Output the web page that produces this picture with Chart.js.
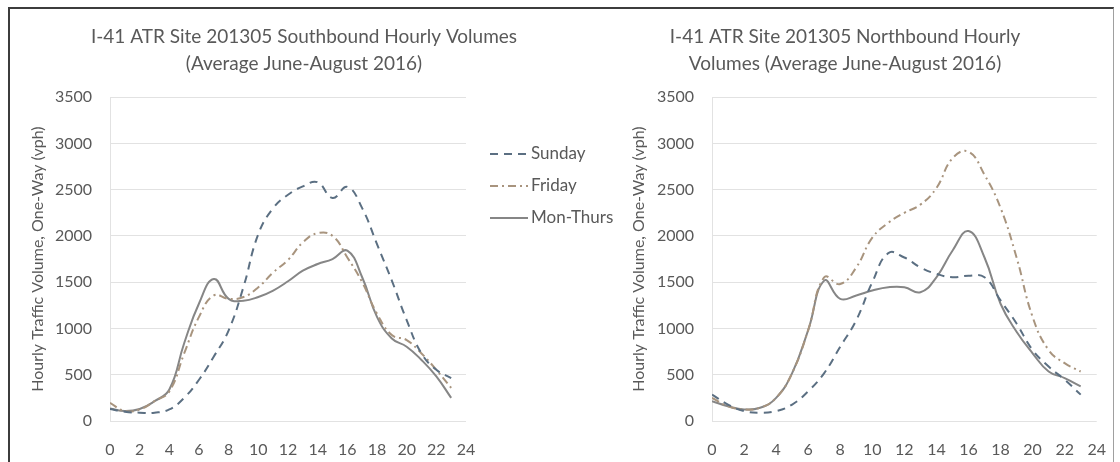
<!DOCTYPE html>
<html>
<head>
<meta charset="utf-8">
<script src="https://cdn.jsdelivr.net/npm/chart.js@4"></script>
<style>
  html, body { margin: 0; padding: 0; background: #fff; overflow: hidden; }
  #wrap { position: relative; width: 1120px; height: 462px; }
  #frame { position: absolute; left: 8px; top: 7px; width: 1103px; height: 470px;
           border-left: 2px solid #3c3c3c; border-top: 2px solid #3c3c3c; border-right: 1px solid #a0a0a0; }
  canvas { position: absolute; top: 0; }
  #south { left: -16px; }
  #north { left: 565px; }
</style>
</head>
<body>
<div id="wrap">
  <div id="frame"></div>
  <canvas id="south" width="640" height="462"></canvas>
  <canvas id="north" width="560" height="462"></canvas>
</div>
<script>
const hours = [0, 1, 2, 3, 4, 5, 6, 7, 8, 9, 10, 11, 12, 13, 14, 15, 16, 17, 18, 19, 20, 21, 22, 23];
const seriesNames = ["Sunday", "Friday", "Mon-Thurs"];

const southSunday = [130, 100, 90, 90, 125, 250, 446, 696, 980, 1450, 2020, 2300, 2445, 2535, 2580, 2410, 2530, 2300, 1910, 1517, 1090, 730, 553, 464];
const southFriday = [196, 107, 125, 214, 320, 730, 1125, 1357, 1320, 1340, 1445, 1606, 1740, 1930, 2030, 2000, 1767, 1500, 1160, 928, 875, 730, 553, 357];
const southMonThurs = [135, 107, 130, 214, 340, 840, 1270, 1535, 1320, 1300, 1340, 1410, 1510, 1624, 1696, 1750, 1840, 1553, 1125, 892, 803, 660, 482, 250];

const northSunday = [285, 178, 107, 90, 107, 178, 321, 518, 803, 1089, 1500, 1814, 1767, 1660, 1590, 1553, 1570, 1553, 1303, 1053, 767, 589, 446, 285];
const northFriday = [250, 160, 125, 143, 250, 518, 982, 1553, 1480, 1660, 1981, 2142, 2250, 2338, 2517, 2838, 2910, 2660, 2303, 1767, 1125, 767, 625, 535];
const northMonThurs = [214, 160, 125, 143, 250, 518, 982, 1517, 1320, 1357, 1410, 1446, 1446, 1392, 1553, 1840, 2053, 1767, 1267, 964, 732, 535, 464, 375];

const textColor = "#595959";
const styles = [
  { color: "#5b6f82", dash: [8, 6] },
  { color: "#a8947e", dash: [8, 4, 2, 4] },
  { color: "#868686", dash: [] }
];

function points(values) {
  return values.map((v, i) => ({ x: hours[i], y: v }));
}

function makeDatasets(list) {
  return list.map((values, i) => ({
    label: seriesNames[i],
    data: points(values),
    borderColor: styles[i].color,
    borderDash: styles[i].dash,
    borderWidth: 2,
    pointRadius: 0,
    tension: 0.45,
    fill: false
  }));
}

// legend drawn beside the plot, like the Excel one
const sideLegend = {
  id: "sideLegend",
  afterDraw(chart, args, opts) {
    if (!opts.show) return;
    const ctx = chart.ctx;
    ctx.save();
    chart.data.datasets.forEach((ds, i) => {
      const y = opts.top + i * opts.gap;
      ctx.beginPath();
      ctx.setLineDash(ds.borderDash);
      ctx.strokeStyle = ds.borderColor;
      ctx.lineWidth = ds.borderWidth;
      ctx.moveTo(opts.x, y);
      ctx.lineTo(opts.x + opts.len, y);
      ctx.stroke();
      ctx.setLineDash([]);
      ctx.fillStyle = textColor;
      ctx.font = "17px Lato";
      ctx.textBaseline = "middle";
      ctx.fillText(ds.label, opts.x + opts.len + 3, y);
    });
    ctx.restore();
  }
};

function makeOptions(title, axisWidth, titlePad, rightSpace, legend) {
  return {
    responsive: false,
    animation: false,
    layout: { padding: 0 },
    plugins: {
      legend: { display: false },
      tooltip: { enabled: false },
      title: {
        display: true,
        text: title,
        color: textColor,
        font: { family: "Lato", size: 19, lineHeight: 1.45, weight: "normal" },
        padding: { top: 23, bottom: 19 }
      },
      sideLegend: legend
    },
    scales: {
      x: {
        type: "linear",
        min: 0,
        max: 24,
        grid: { display: false, drawTicks: false },
        border: { display: false },
        ticks: { stepSize: 2, color: textColor, padding: 19, font: { family: "Lato", size: 16 },
                 callback: v => String(v) },
        afterFit(scale) { scale.height = 41; }
      },
      y: {
        min: 0,
        max: 3500,
        grid: { color: "#e2e2e2", drawTicks: false },
        border: { display: true, color: "#e2e2e2" },
        ticks: { stepSize: 500, color: textColor, padding: 18, font: { family: "Lato", size: 16 },
                 callback: v => String(v) },
        title: {
          display: true,
          text: "Hourly Traffic Volume, One-Way (vph)",
          color: textColor,
          font: { family: "Lato", size: 16 },
          padding: { top: titlePad, bottom: 0 }
        },
        afterFit(scale) { scale.width = axisWidth; }
      },
      // empty right-hand axis that only reserves room (legend side)
      spacer: {
        position: "right",
        min: 0,
        max: 3500,
        grid: { display: false, drawTicks: false },
        border: { display: false },
        ticks: { display: false },
        afterFit(scale) { scale.width = rightSpace; }
      }
    }
  };
}

new Chart(document.getElementById("south"), {
  type: "line",
  data: { datasets: makeDatasets([southSunday, southFriday, southMonThurs]) },
  options: makeOptions(
    ["I-41 ATR Site 201305 Southbound Hourly Volumes", "(Average June-August 2016)"],
    126, 44, 158,
    { show: true, x: 506, len: 38, top: 154, gap: 32 }
  ),
  plugins: [sideLegend]
});

new Chart(document.getElementById("north"), {
  type: "line",
  data: { datasets: makeDatasets([northSunday, northFriday, northMonThurs]) },
  options: makeOptions(
    ["I-41 ATR Site 201305 Northbound Hourly", "Volumes (Average June-August 2016)"],
    147, 64, 28,
    { show: false }
  ),
  plugins: [sideLegend]
});
</script>
</body>
</html>
